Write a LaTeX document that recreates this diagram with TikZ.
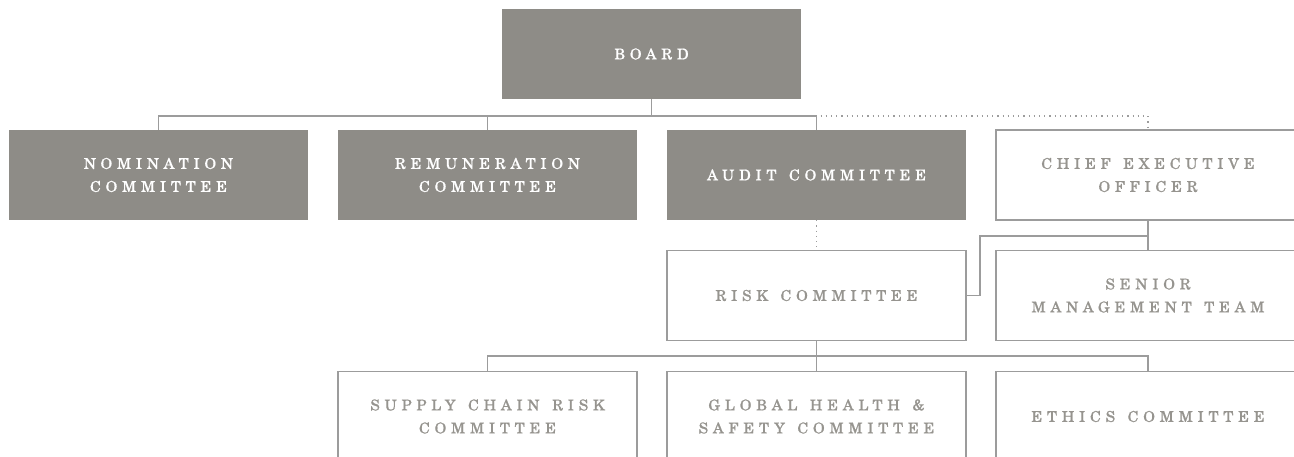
\documentclass[tikz,border=0pt]{standalone}
\usepackage{fontspec}
\newfontfamily\spacedfont{texgyreschola-regular.otf}[LetterSpace=32,FakeBold=0.8,WordSpace=1.4]
\definecolor{boxgray}{HTML}{8E8C87}
\definecolor{linegray}{HTML}{9C9C9C}
\definecolor{textgray}{HTML}{96948F}
\tikzset{
  base/.style={rectangle, minimum width=299pt, minimum height=90pt, inner sep=0pt, align=center,
    font=\spacedfont\fontsize{15}{23}\selectfont},
  darkbox/.style={base, fill=boxgray, text=white},
  lightbox/.style={base, draw=linegray, line width=1.2pt, text=textgray},
  conn/.style={draw=linegray, line width=1.1pt},
  dotconn/.style={draw=linegray, line width=1.3pt, dash pattern=on 1.2pt off 4pt}
}
\begin{document}
\begin{tikzpicture}[x=1pt,y=-1pt]
\useasboundingbox (0,0) rectangle (1294,456);
\node[darkbox] (board) at (651.5,54) {BOARD};
\node[darkbox] (nom) at (158.5,175) {NOMINATION\\COMMITTEE};
\node[darkbox] (rem) at (487.5,175) {REMUNERATION\\COMMITTEE};
\node[darkbox] (audit) at (816.5,175) {AUDIT COMMITTEE};
\node[lightbox, minimum width=304pt] (ceo) at (1148,175) {CHIEF EXECUTIVE\\OFFICER};
\node[lightbox] (risk) at (816.5,295.5) {RISK COMMITTEE};
\node[lightbox, minimum width=304pt] (senior) at (1148,295.5) {SENIOR\\MANAGEMENT TEAM};
\node[lightbox] (supply) at (487.5,416.5) {SUPPLY CHAIN RISK\\COMMITTEE};
\node[lightbox] (global) at (816.5,416.5) {GLOBAL HEALTH \&\\SAFETY COMMITTEE};
\node[lightbox, minimum width=304pt] (ethics) at (1148,416.5) {ETHICS COMMITTEE};
\coordinate (bus1) at (0,116);
\coordinate (bus2) at (980,236);
\coordinate (bus3) at (0,356);
\draw[conn] (board.south) -- (board.south |- bus1);
\draw[conn] (nom.north) -- (nom.north |- bus1) -| (audit.north);
\draw[conn] (rem.north) -- (rem.north |- bus1);
\draw[dotconn] (audit.north |- bus1) ++(4,0) -| (ceo.north);
\draw[dotconn] (audit.south) -- (risk.north);
\draw[conn] (ceo.south) -- (senior.north);
\draw[conn] (ceo.south |- bus2) -- (bus2) |- (risk.east);
\draw[conn] (risk.south) -- (risk.south |- bus3);
\draw[conn] (supply.north) -- (supply.north |- bus3) -| (ethics.north);
\draw[conn] (global.north) -- (global.north |- bus3);
\end{tikzpicture}
\end{document}
